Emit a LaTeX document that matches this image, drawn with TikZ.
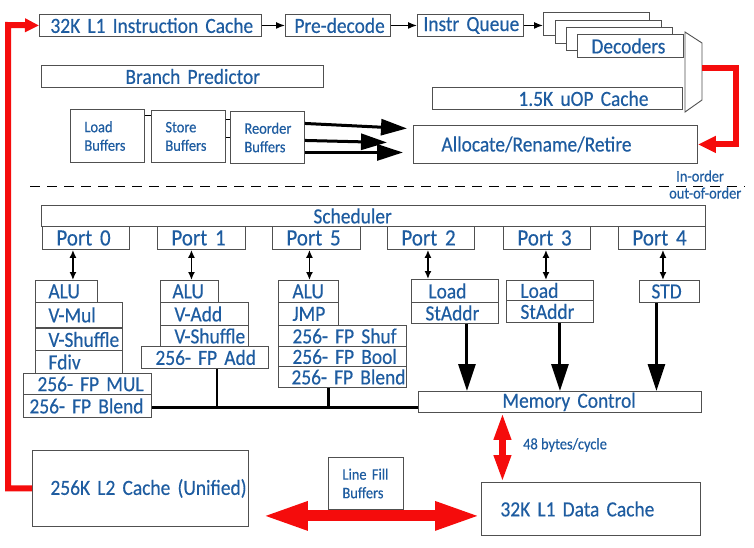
\documentclass[tikz,border=0pt]{standalone}
\usepackage{fontspec}
\setmainfont{Carlito}[FakeStretch=0.9, FakeBold=0.4]
\usepackage{xcolor}
\usepackage{tikz}
\usetikzlibrary{arrows.meta}
\definecolor{intelblue}{RGB}{30,92,160}
\definecolor{framegray}{RGB}{80,80,80}
\definecolor{busred}{RGB}{245,12,12}
\newcommand{\blockfont}{\fontsize{21.6}{23}\selectfont}
\newcommand{\portfont}{\fontsize{23.3}{24}\selectfont}
\newcommand{\notefont}{\fontsize{16}{18.5}\selectfont}
\exhyphenpenalty=10000
\hyphenpenalty=10000
\tikzset{
  unit/.style={draw=framegray, line width=0.9pt, anchor=north west, inner sep=0pt,
    align=left, text=intelblue, font=\blockfont, execute at begin node={\leftskip=#1\relax}},
  unit/.default=13pt,
  port/.style={unit=14pt, font=\portfont},
  buf/.style={unit=14pt, font=\notefont},
  note/.style={anchor=west, inner sep=0pt, text=intelblue, font=\notefont}
}
\tikzstyle{flow} = [-{Latex[length=9pt,width=7pt]}, line width=1.4pt]
\tikzstyle{wideflow} = [-{Triangle[length=26pt,width=16pt]}, line width=3pt]
\tikzstyle{portlink} = [{Latex[length=8pt,width=7pt]}-{Latex[length=8pt,width=7pt]}, line width=1.5pt]
\tikzstyle{bus} = [line width=3pt]
\tikzstyle{redbus} = [busred, line width=6pt]

\begin{document}
\begin{tikzpicture}[x=1pt, y=-1pt]
  \useasboundingbox (0,0) rectangle (754,547);
  % front end
  \node[unit=11pt, text width=222pt, minimum height=22pt] (l1i) at (39,14) {32K~L1~Instruction~Cache};
  \node[unit=9pt, text width=105pt, minimum height=22pt] (predec) at (285,14) {Pre-decode};
  \node[unit=6pt, text width=106pt, minimum height=22pt] (iq) at (417,14) {Instr~Queue};
  \node[unit, fill=white, text width=106pt, minimum height=23pt] (dec1) at (543,12) {};
  \node[unit, fill=white, text width=106pt, minimum height=23pt] (dec2) at (555,19.5) {};
  \node[unit, fill=white, text width=106pt, minimum height=23pt] (dec3) at (566,27) {};
  \node[unit=14pt, fill=white, text width=106pt, minimum height=23pt] (dec4) at (577,34) {Decoders};
  \node[unit=84pt, text width=282pt, minimum height=22pt] (bp) at (41,65) {Branch~Predictor};
  \node[unit=86pt, text width=250pt, minimum height=22pt] (uop) at (432,87) {1.5K~uOP~Cache};
  \node[unit=28pt, text width=284pt, minimum height=38pt] (alloc) at (413,125) {Allocate/Rename/Retire};
  \node[buf, text width=74pt, minimum height=53pt] (ldbuf) at (70,109) {Load\\Buffers};
  \node[buf, text width=74pt, minimum height=52pt] (stbuf) at (151,110) {Store\\Buffers};
  \node[buf, text width=74pt, minimum height=52pt] (rob) at (230,111) {Reorder\\Buffers};

  \draw[fill=white, draw=framegray, line width=0.9pt] (685,32) -- (702,43) -- (702,100) -- (685,112) -- cycle;
  \coordinate (muxout) at (702,68);
  \coordinate (muxturn) at (736,68);

  \draw[flow] (l1i) -- (predec);
  \draw[flow] (predec) -- (iq);
  \draw[flow] (iq.east) -- (iq.east -| dec1.west);
  \draw[line width=1pt] ([yshift=-6pt]ldbuf.north east) -- ([yshift=-6pt]ldbuf.north east -| stbuf.west);
  \draw[line width=1pt] ([yshift=-9pt]stbuf.north east) -- ([yshift=-9pt]stbuf.north east -| rob.west);
  \draw[line width=1pt] ([yshift=-27pt]stbuf.north east) -- ([yshift=-27pt]stbuf.north east -| rob.west);
  \draw[wideflow] ([yshift=14pt]rob.east) -- ([xshift=-6pt,yshift=16pt]alloc.west);
  \draw[wideflow] ([yshift=-3pt]rob.east) -- ([xshift=-26pt,yshift=2pt]alloc.west);
  \draw[wideflow] ([yshift=-15pt]rob.east) -- ([xshift=-10pt,yshift=-8pt]alloc.west);
  \draw[redbus, -{Triangle[length=18pt,width=16pt]}] (muxout) -- (muxturn) |- (alloc.east);

  \draw[line width=1pt, dash pattern=on 10pt off 7pt] (30,186) -- (745,186);
  \node[note] (inord) at (676,176) {In-order};
  \node[note] (outord) at (669,193) {out-of-order};

  % execution
  \node[unit=272pt, text width=664pt, minimum height=21pt] (sched) at (41,205) {Scheduler};
  \node[port, text width=87pt, minimum height=23pt] (port0) at (42,226) {Port~0};
  \node[port, text width=88pt, minimum height=23pt] (port1) at (157,226) {Port~1};
  \node[port, text width=88pt, minimum height=23pt] (port5) at (272,226) {Port~5};
  \node[port, text width=87pt, minimum height=23pt] (port2) at (387,226) {Port~2};
  \node[port, text width=87pt, minimum height=23pt] (port3) at (503,226) {Port~3};
  \node[port, text width=87pt, minimum height=23pt] (port4) at (618,226) {Port~4};

  \node[unit, text width=62pt, minimum height=22pt] (alu0) at (35,280) {ALU};
  \node[unit, text width=87pt, minimum height=25pt] (vmul0) at (35,302) {V-Mul};
  \node[unit, text width=87pt, minimum height=22pt] (vshuf0) at (35,328) {V-Shuffle};
  \node[unit, text width=87pt, minimum height=23pt] (fdiv0) at (35,350) {Fdiv};
  \node[unit=14pt, text width=128pt, minimum height=21pt] (fpmul0) at (23,373) {256-~FP~MUL};
  \node[unit=6pt, text width=128pt, minimum height=23pt] (fpblend0) at (23,394) {256-~FP~Blend};

  \node[unit=12pt, text width=58pt, minimum height=22pt] (alu1) at (160,280) {ALU};
  \node[unit=14pt, text width=88pt, minimum height=23pt] (vadd1) at (160,302) {V-Add};
  \node[unit=14pt, text width=88pt, minimum height=21pt] (vshuf1) at (160,325) {V-Shuffle};
  \node[unit=14pt, text width=127pt, minimum height=22pt] (fpadd1) at (141,346) {256-~FP~Add};

  \node[unit=14pt, text width=60pt, minimum height=22pt] (alu5) at (278,280) {ALU};
  \node[unit=14pt, text width=60pt, minimum height=23pt] (jmp5) at (278,302) {JMP};
  \node[unit=14pt, text width=128pt, minimum height=21pt] (fpshuf5) at (278,325) {256-~FP~Shuf};
  \node[unit=14pt, text width=128pt, minimum height=20pt] (fpbool5) at (278,346) {256-~FP~Bool};
  \node[unit=13pt, text width=128pt, minimum height=21pt] (fpblend5) at (278,366) {256-~FP~Blend};

  \node[unit=17pt, text width=87pt, minimum height=23pt] (ld2) at (411,279) {Load};
  \node[unit=14pt, text width=87pt, minimum height=21pt] (sta2) at (411,302) {StAddr};
  \node[unit=14pt, text width=87pt, minimum height=20pt] (ld3) at (506,280) {Load};
  \node[unit=14pt, text width=87pt, minimum height=22pt] (sta3) at (506,300) {StAddr};
  \node[unit=12pt, text width=60pt, minimum height=22pt] (std4) at (639,280) {STD};

  \node[unit=84pt, text width=283pt, minimum height=21pt] (memctl) at (418,391) {Memory~Control};

  \draw[portlink] ([xshift=-13pt]port0.south) -- ([xshift=-13pt]port0.south |- alu0.north);
  \draw[portlink] ([xshift=-10pt]port1.south) -- ([xshift=-10pt]port1.south |- alu1.north);
  \draw[portlink] ([xshift=-7pt]port5.south) -- ([xshift=-7pt]port5.south |- alu5.north);
  \draw[portlink] ([xshift=-3pt]port2.south) -- ([xshift=-3pt]port2.south |- ld2.north);
  \draw[portlink] ([xshift=-1pt]port3.south) -- ([xshift=-1pt]port3.south |- ld3.north);
  \draw[portlink] ([xshift=1pt]port4.south) -- ([xshift=1pt]port4.south |- std4.north);

  \draw[wideflow, -{Triangle[length=27pt,width=17pt]}] ([xshift=12pt]sta2.south) -- ([xshift=12pt]sta2.south |- memctl.north);
  \draw[wideflow, -{Triangle[length=27pt,width=17pt]}] ([xshift=10pt]sta3.south) -- ([xshift=10pt]sta3.south |- memctl.north);
  \draw[wideflow, -{Triangle[length=27pt,width=17pt]}] ([xshift=-13pt]std4.south) -- ([xshift=-13pt]std4.south |- memctl.north);

  \draw[bus] ([yshift=-2pt]fpblend0.east) -- ([yshift=-2pt]fpblend0.east -| memctl.west);
  \draw[line width=2.2pt] ([xshift=12pt]fpadd1.south) -- ([xshift=12pt,yshift=-2pt]fpadd1.south |- fpblend0.east);
  \draw[line width=2.2pt] ([xshift=-14pt]fpblend5.south) -- ([xshift=-14pt,yshift=-2pt]fpblend5.south |- fpblend0.east);

  % caches
  \node[unit=18pt, text width=216pt, minimum height=76pt] (l2) at (32,450) {256K~L2~Cache~(Unified)};
  \node[buf, text width=75pt, minimum height=52pt] (lfb) at (328,457) {Line Fill\\Buffers};
  \node[unit=19pt, text width=219pt, minimum height=53pt] (l1d) at (481,482) {32K~L1~Data~Cache};
  \node[note] (bw) at (523,445) {48 bytes/cycle};

  \coordinate (l2feed) at (8,25);
  \draw[redbus, -{Triangle[length=14pt,width=13pt]}] (l2.west) -| (l2feed) -- (l1i.west);
  \draw[busred, line width=6.5pt, {Triangle[length=27pt,width=16pt]}-{Triangle[length=27pt,width=16pt]}]
    ([xshift=-57.5pt]memctl.south) -- ([xshift=-57.5pt]memctl.south |- l1d.north);
  \draw[busred, line width=11pt, shorten <=13pt, {Triangle[length=46pt,width=26pt]}-{Triangle[length=46pt,width=26pt]}]
    ([yshift=-6pt]lfb.south -| l2.east) -- ([yshift=-6pt]lfb.south -| l1d.west);
\end{tikzpicture}
\end{document}
